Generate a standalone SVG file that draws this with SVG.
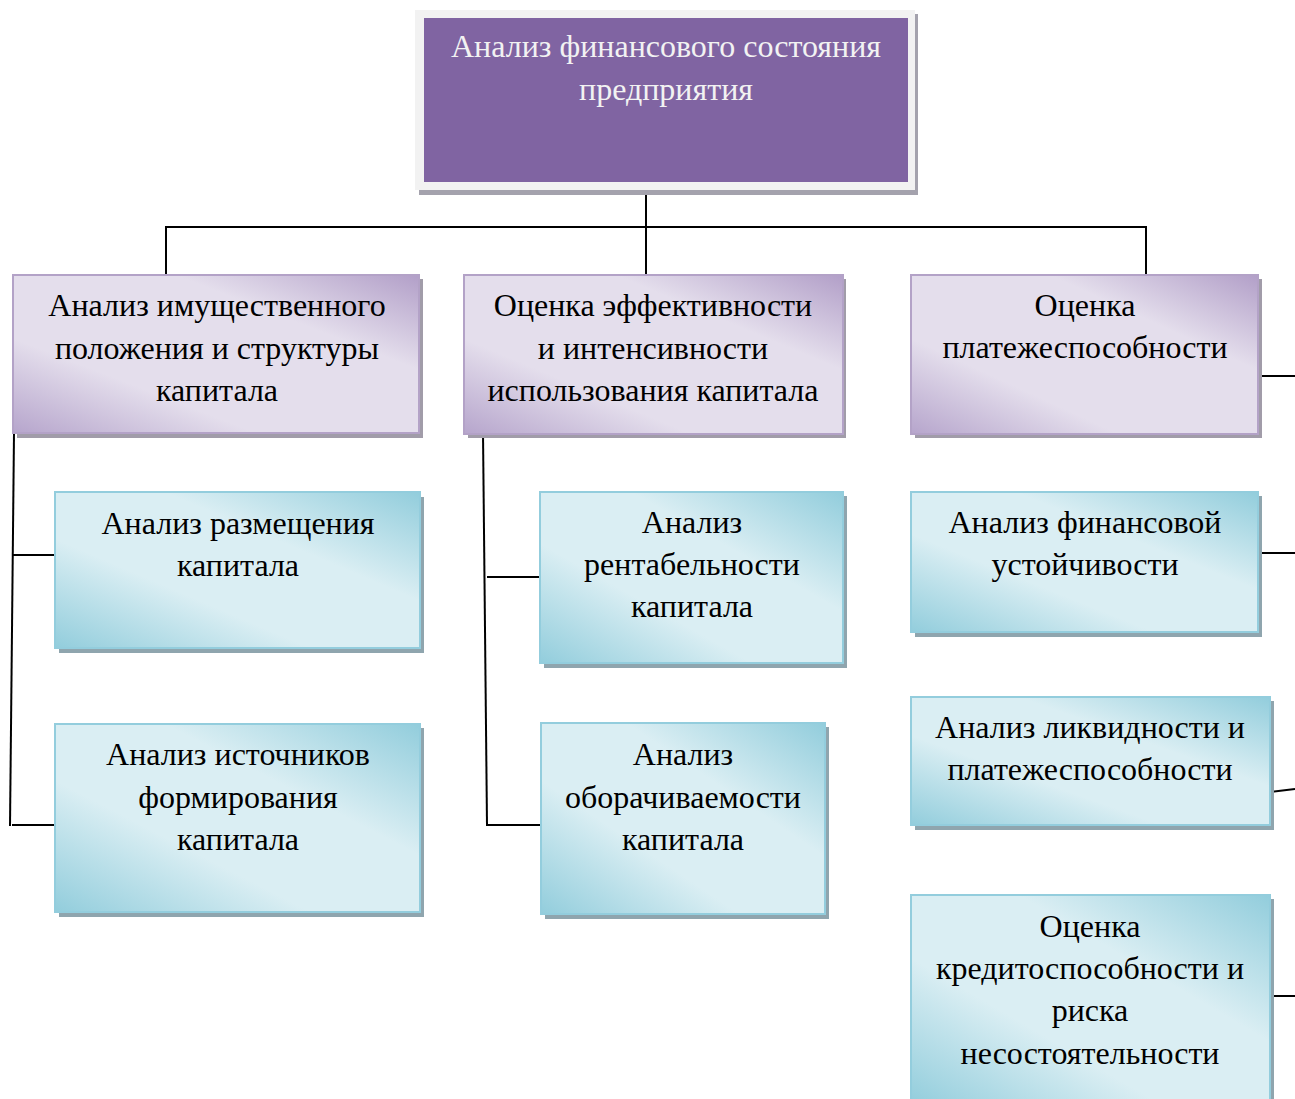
<svg xmlns="http://www.w3.org/2000/svg" width="1295" height="1099" viewBox="0 0 1295 1099">
<defs>
<linearGradient id="gp" x1="0" y1="1" x2="1" y2="0">
<stop offset="0" stop-color="#b6a5cc"/>
<stop offset="0.3" stop-color="#e4deec"/>
<stop offset="0.7" stop-color="#e4deec"/>
<stop offset="1" stop-color="#b29fc8"/>
</linearGradient>
<linearGradient id="gb" x1="0" y1="1" x2="1" y2="0">
<stop offset="0" stop-color="#92cddc"/>
<stop offset="0.35" stop-color="#daeef3"/>
<stop offset="0.65" stop-color="#daeef3"/>
<stop offset="1" stop-color="#92cddc"/>
</linearGradient>
<style>
.t{font-family:"Liberation Serif","Times New Roman",serif;font-size:32px;fill:#000;text-anchor:middle}
.tw{font-family:"Liberation Serif","Times New Roman",serif;font-size:32px;fill:#f2f2f2;text-anchor:middle}
.sp{fill:#a19ca9}
.sb{fill:#8fa5ae}
.p{fill:url(#gp);stroke:#b3a2c7;stroke-width:2}
.b{fill:url(#gb);stroke:#93cddd;stroke-width:2}
.c{stroke:#000;stroke-width:2;fill:none}
</style>
</defs>
<rect width="1295" height="1099" fill="#fff"/>
<g id="connectors">
<line class="c" x1="646" y1="183" x2="646" y2="275"/>
<line class="c" x1="165" y1="227" x2="1147" y2="227"/>
<line class="c" x1="166" y1="227" x2="166" y2="275"/>
<line class="c" x1="1146" y1="227" x2="1146" y2="275"/>
<line class="c" x1="14" y1="433" x2="10" y2="826"/>
<line class="c" x1="13" y1="555" x2="56" y2="555"/>
<line class="c" x1="12" y1="825" x2="56" y2="825"/>
<line class="c" x1="483" y1="433" x2="487" y2="825"/>
<line class="c" x1="487" y1="577" x2="541" y2="577"/>
<line class="c" x1="486" y1="825" x2="541" y2="825"/>
<line class="c" x1="1258" y1="376" x2="1295" y2="376"/>
<line class="c" x1="1258" y1="553" x2="1295" y2="553"/>
<line class="c" x1="1270" y1="792" x2="1295" y2="789"/>
<line class="c" x1="1270" y1="996" x2="1295" y2="996"/>
</g>
<g id="root">
<rect x="419" y="14" width="499" height="181" fill="#a4a2ad"/>
<rect x="415" y="10" width="500" height="180" fill="#f2f2f2"/>
<rect x="424" y="18" width="484" height="164" fill="#8064a2"/>
<text class="tw" x="666" y="57">Анализ финансового состояния</text>
<text class="tw" x="666" y="100">предприятия</text>
</g>
<g id="n1">
<rect class="sp" x="17" y="279" width="406" height="159"/>
<rect class="p" x="13" y="275" width="406" height="158"/>
<text class="t" x="217" y="316">Анализ имущественного</text>
<text class="t" x="217" y="359">положения и структуры</text>
<text class="t" x="217" y="401">капитала</text>
</g>
<g id="n2">
<rect class="sp" x="468" y="279" width="378" height="159"/>
<rect class="p" x="464" y="275" width="379" height="159"/>
<text class="t" x="653" y="316">Оценка эффективности</text>
<text class="t" x="653" y="359">и интенсивности</text>
<text class="t" x="653" y="401">использования капитала</text>
</g>
<g id="n3">
<rect class="sp" x="915" y="279" width="347" height="159"/>
<rect class="p" x="911" y="275" width="347" height="159"/>
<text class="t" x="1085" y="316">Оценка</text>
<text class="t" x="1085" y="358">платежеспособности</text>
</g>
<g id="n11">
<rect class="sb" x="59" y="497" width="365" height="156"/>
<rect class="b" x="55" y="492" width="365" height="156"/>
<text class="t" x="238" y="534">Анализ размещения</text>
<text class="t" x="238" y="576">капитала</text>
</g>
<g id="n12">
<rect class="sb" x="59" y="728" width="365" height="189"/>
<rect class="b" x="55" y="724" width="365" height="188"/>
<text class="t" x="238" y="765">Анализ источников</text>
<text class="t" x="238" y="808">формирования</text>
<text class="t" x="238" y="850">капитала</text>
</g>
<g id="n21">
<rect class="sb" x="544" y="496" width="303" height="172"/>
<rect class="b" x="540" y="492" width="303" height="171"/>
<text class="t" x="692" y="533">Анализ</text>
<text class="t" x="692" y="575">рентабельности</text>
<text class="t" x="692" y="617">капитала</text>
</g>
<g id="n22">
<rect class="sb" x="545" y="727" width="284" height="192"/>
<rect class="b" x="541" y="723" width="284" height="191"/>
<text class="t" x="683" y="765">Анализ</text>
<text class="t" x="683" y="808">оборачиваемости</text>
<text class="t" x="683" y="850">капитала</text>
</g>
<g id="n31">
<rect class="sb" x="915" y="496" width="347" height="141"/>
<rect class="b" x="911" y="492" width="347" height="140"/>
<text class="t" x="1085" y="533">Анализ финансовой</text>
<text class="t" x="1085" y="575">устойчивости</text>
</g>
<g id="n32">
<rect class="sb" x="915" y="701" width="359" height="129"/>
<rect class="b" x="911" y="697" width="359" height="128"/>
<text class="t" x="1090" y="738">Анализ ликвидности и</text>
<text class="t" x="1090" y="780">платежеспособности</text>
</g>
<g id="n33">
<rect class="sb" x="915" y="899" width="359" height="210"/>
<rect class="b" x="911" y="895" width="359" height="210"/>
<text class="t" x="1090" y="937">Оценка</text>
<text class="t" x="1090" y="979">кредитоспособности и</text>
<text class="t" x="1090" y="1021">риска</text>
<text class="t" x="1090" y="1064">несостоятельности</text>
</g>
</svg>
